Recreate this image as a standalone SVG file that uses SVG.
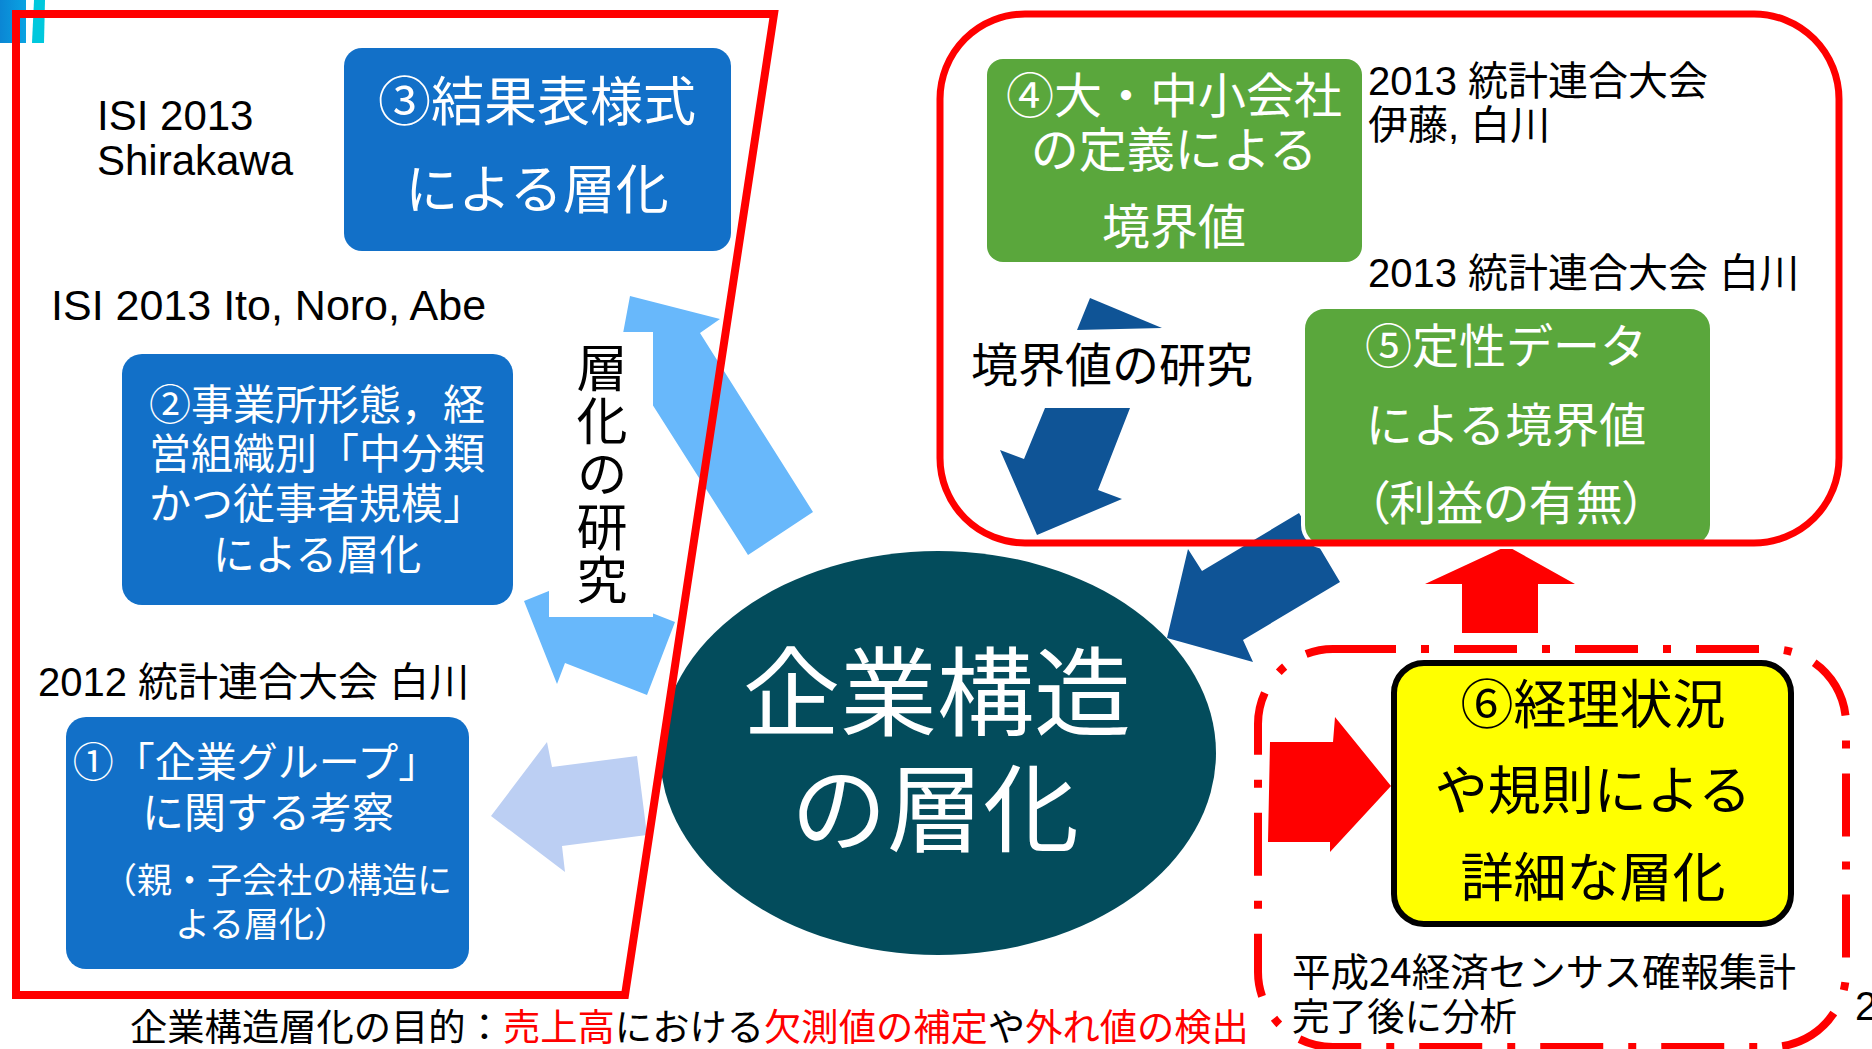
<svg xmlns="http://www.w3.org/2000/svg" width="1872" height="1049" viewBox="0 0 1872 1049">
<defs>
<style>
text{font-family:"Noto Sans CJK JP","Noto Sans CJK SC",sans-serif;}
.lat{font-family:"Liberation Sans","Noto Sans CJK JP",sans-serif;}
.w{fill:#ffffff;}
.k{fill:#000000;}
.r{fill:#ff0000;}
.c{text-anchor:middle;}
.boxb{fill:#1270c8;}
.boxg{fill:#5aa73c;}
.lb{fill:#68b8fb;}
.lv{fill:#bccff3;}
.db{fill:#0f5496;}
.ra{fill:#ff0000;}
.frame{fill:none;stroke:#ff0000;stroke-width:8;stroke-linejoin:miter;}
.palt{font-feature-settings:"palt";}
.vert{writing-mode:vertical-rl;}
</style>
<linearGradient id="bar" x1="0" y1="0" x2="1" y2="0">
<stop offset="0" stop-color="#0b86d4"/>
<stop offset="1" stop-color="#0aa3e2"/>
</linearGradient>
</defs>
<rect width="1872" height="1049" fill="#ffffff"/>
<g id="deco">
<rect x="0" y="0" width="26" height="43" fill="url(#bar)"/>
<polygon points="34,0 45,0 44,43 32,43" fill="#00c8dd"/>
</g>
<g id="connectors">
<polygon class="lb" points="630,296 720,319 700,333 813,512 748,555 633,374 613,387"/>
<polygon class="lb" points="524,601 601,570 593,590 675,622 647,695 565,663 557,684"/>
<polygon class="lv" points="491,816 547,742 552,767 637,756 647,835 562,846 565,872"/>
<polygon class="db" points="1090,298 1162,328 1077,330"/>
<polygon class="db" points="1045,408 1130,408 1098,490 1122,499 1037,535 1000,450 1024,459"/>
<polygon class="db" points="1167,638 1188,549 1202,571 1299,513 1340,582 1243,640 1253,662"/>
<polygon class="ra" points="1507,546 1575,584 1538,584 1538,633 1462,633 1462,584 1425,584"/>
<polygon class="ra" points="1270,742 1333,742 1335,717 1391,786 1330,852 1330,842 1268,842"/>
</g>
<g id="label-stratification-research">
<rect x="549" y="332" width="104" height="285" fill="#ffffff"/>
<text class="k vert" x="602" y="342.5" font-size="51" letter-spacing="2">層化の研究</text>
</g>
<g id="label-boundary-research">
<rect x="965" y="331" width="297" height="76" fill="#ffffff"/>
<text class="k" x="971" y="382" font-size="47">境界値の研究</text>
</g>
<g id="node3">
<rect class="boxb" x="344" y="48" width="387" height="203" rx="18"/>
<text class="w c" x="537" y="121" font-size="53">③結果表様式</text>
<text class="w c" x="537" y="209" font-size="53">による層化</text>
</g>
<g id="label-isi-shirakawa">
<text class="lat k" x="97" y="130" font-size="42">ISI 2013</text>
<text class="lat k" x="97" y="175" font-size="42">Shirakawa</text>
</g>
<g id="label-isi-ito">
<text class="lat k" x="51" y="320" font-size="43">ISI 2013 Ito, Noro, Abe</text>
</g>
<g id="node2">
<rect class="boxb" x="122" y="354" width="391" height="251" rx="20"/>
<text class="w c" x="317" y="420" font-size="42">②事業所形態，経</text>
<text class="w c" x="317" y="469" font-size="42">営組織別「中分類</text>
<text class="w c" x="317" y="519" font-size="42">かつ従事者規模」</text>
<text class="w c" x="317" y="570" font-size="42">による層化</text>
</g>
<g id="label-2012">
<text class="lat k" x="38" y="696" font-size="40">2012 統計連合大会 白川</text>
</g>
<g id="node1">
<rect class="boxb" x="66" y="717" width="403" height="252" rx="20"/>
<text class="w c" x="256" y="777" font-size="41">①「企業グループ」</text>
<text class="w c" x="268" y="828" font-size="42">に関する考察</text>
<text class="w c" x="277" y="893" font-size="35">（親・子会社の構造に</text>
<text class="w c" x="262" y="937" font-size="35">よる層化）</text>
</g>
<g id="node-center">
<ellipse cx="938" cy="753" rx="278" ry="202" fill="#034c5c"/>
<text class="w c" x="937" y="728" font-size="97">企業構造</text>
<text class="w c" x="935" y="844" font-size="96">の層化</text>
</g>
<g id="node4">
<rect class="boxg" x="987" y="59" width="375" height="203" rx="16"/>
<text class="w c" x="1174" y="113" font-size="48">④大・中小会社</text>
<text class="w c" x="1174" y="167" font-size="48">の定義による</text>
<text class="w c" x="1174" y="244" font-size="48">境界値</text>
</g>
<g id="label-2013a">
<text class="lat k" x="1368" y="95" font-size="40">2013 統計連合大会</text>
<text class="lat k" x="1368" y="139" font-size="40">伊藤, 白川</text>
</g>
<g id="label-2013b">
<text class="lat k" x="1368" y="287" font-size="40">2013 統計連合大会 白川</text>
</g>
<g id="node5">
<rect class="boxg" x="1303" y="307" width="409" height="240" rx="22" stroke="#ffffff" stroke-width="4"/>
<text class="w c" x="1506" y="363" font-size="47">⑤定性データ</text>
<text class="w c" x="1506" y="442" font-size="47">による境界値</text>
<text class="w c palt" x="1506" y="520" font-size="47">（利益の有無）</text>
</g>
<g id="node6">
<rect x="1394" y="663" width="397" height="261" rx="30" fill="#ffff00" stroke="#000000" stroke-width="6"/>
<text class="k c" x="1593" y="724" font-size="53">⑥経理状況</text>
<text class="k c" x="1593" y="810" font-size="53">や規則による</text>
<text class="k c" x="1593" y="897" font-size="53">詳細な層化</text>
</g>
<g id="label-census">
<text class="k" x="1292" y="986" font-size="38.5">平成24経済センサス確報集計</text>
<text class="k" x="1292" y="1030" font-size="37.5">完了後に分析</text>
</g>
<g id="frames">
<path class="frame" d="M16,14 H774 L625,995 H16 Z"/>
<rect x="940" y="14" width="899" height="529" rx="85" fill="none" stroke="#ff0000" stroke-width="7"/>
<rect x="1258" y="649" width="588" height="398" rx="75" fill="none" stroke="#ff0000" stroke-width="8" stroke-dasharray="63 25 8 25"/>
</g>
<g id="label-purpose">
<text x="130" y="1041" font-size="37.3"><tspan class="k">企業構造層化の目的：</tspan><tspan class="r">売上高</tspan><tspan class="k">における</tspan><tspan class="r">欠測値の補定</tspan><tspan class="k">や</tspan><tspan class="r">外れ値の検出</tspan></text>
</g>
<text class="lat k" x="1855" y="1020" font-size="40">2</text>
</svg>
